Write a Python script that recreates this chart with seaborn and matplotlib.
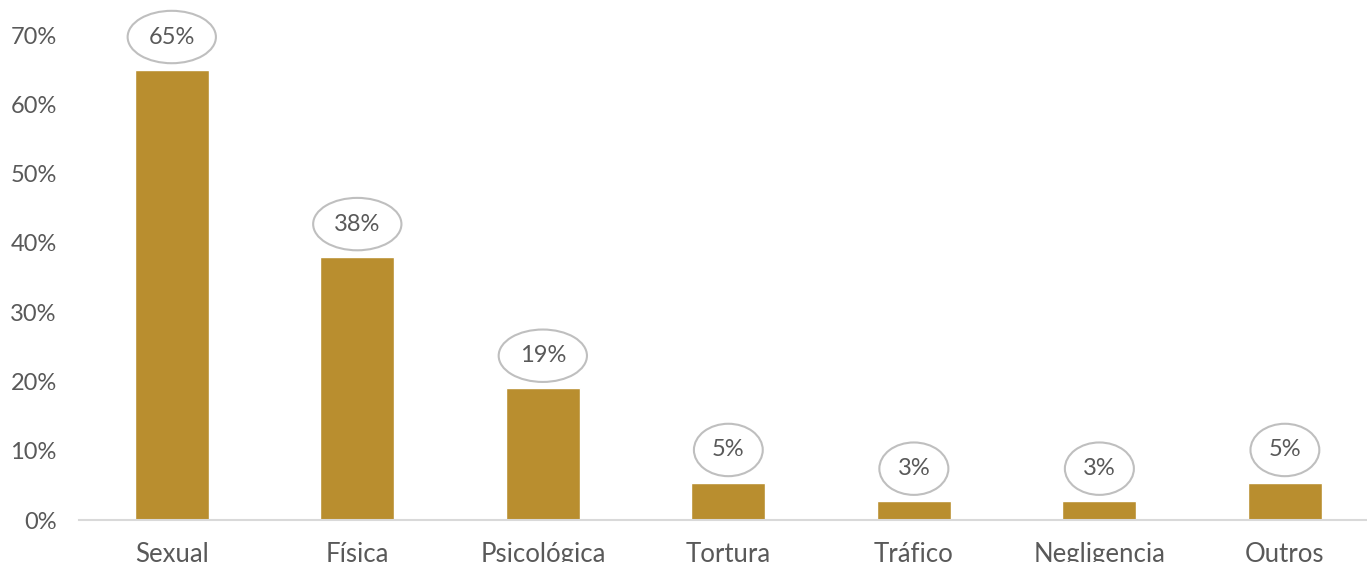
import matplotlib
matplotlib.use("Agg")
import matplotlib.pyplot as plt
import seaborn as sns
import pandas as pd

# Share of reported cases by type of violence (percent)
categories = ["Sexual", "Física", "Psicológica", "Tortura", "Tráfico", "Negligencia", "Outros"]
values = [65.0, 38.0, 19.0, 5.4, 2.7, 2.7, 5.4]
y_ticks = [0, 10, 20, 30, 40, 50, 60, 70]

bar_color = "#B98E2F"
text_color = "#595959"
axis_color = "#D9D9D9"

sns.set_theme(style="white")
plt.rcParams["font.family"] = ["Lato", "DejaVu Sans"]

df = pd.DataFrame({"tipo": categories, "pct": values})

fig = plt.figure(figsize=(13.67, 5.62), dpi=100)
# the plotting area runs slightly past the right edge of the canvas
ax = fig.add_axes([0.0578, 0.0747, 0.950, 0.863])

sns.barplot(data=df, x="tipo", y="pct", color=bar_color, width=0.40,
            saturation=1, ax=ax)

ax.set_xlim(-0.5, len(categories) - 0.5)
ax.set_ylim(0, 70)
ax.set_yticks(y_ticks)
ax.set_yticklabels([f"{t}%" for t in y_ticks])
ax.set_xlabel("")
ax.set_ylabel("")

for side in ["top", "right", "left"]:
    ax.spines[side].set_visible(False)
ax.spines["bottom"].set_color(axis_color)
ax.spines["bottom"].set_linewidth(1.5)

ax.tick_params(axis="y", length=0, labelsize=17, labelcolor=text_color, pad=16)
ax.tick_params(axis="x", length=0, labelsize=18.5, labelcolor=text_color, pad=16)

# Value callouts in outlined ellipses above each bar
for i, v in enumerate(values):
    ax.annotate(f"{v:.0f}%", xy=(i, v), xytext=(0, 23.5), textcoords="offset points",
                ha="center", va="center", fontsize=17, color=text_color,
                annotation_clip=False,
                bbox=dict(boxstyle="ellipse,pad=0.34", fc="white",
                          ec="#BFBFBF", lw=1.5))

fig.savefig("out.png", dpi=100)
